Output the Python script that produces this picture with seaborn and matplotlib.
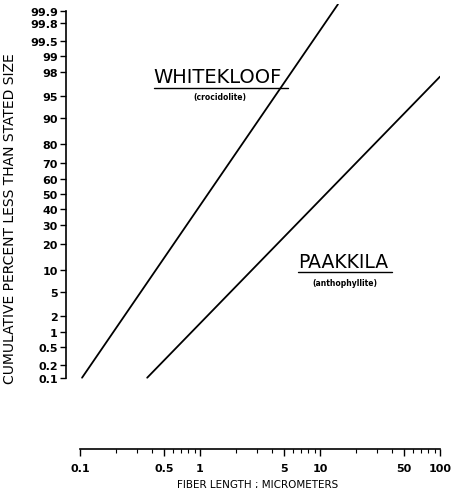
import numpy as np
import pandas as pd
import matplotlib
matplotlib.use("Agg")
import matplotlib.pyplot as plt
import seaborn as sns
from matplotlib.lines import Line2D
from matplotlib.ticker import FixedLocator, NullLocator, NullFormatter
from statistics import NormalDist

# ---- data ----
whitekloof_length = [0.104, 14.1]      # micrometers
whitekloof_pct = [0.1, 99.93]          # cumulative percent
paakkila_length = [0.363, 100.0]
paakkila_pct = [0.1, 97.6]

y_ticks = [0.1, 0.2, 0.5, 1, 2, 5, 10, 20, 30, 40, 50, 60, 70, 80, 90, 95, 98, 99, 99.5, 99.8, 99.9]
y_ticklabels = ["0.1", "0.2", "0.5", "1", "2", "5", "10", "20", "30", "40", "50",
                "60", "70", "80", "90", "95", "98", "99", "99.5", "99.8", "99.9"]
x_ticks = [0.1, 0.5, 1, 5, 10, 50, 100]
x_ticklabels = ["0.1", "0.5", "1", "5", "10", "50", "100"]

df = pd.DataFrame({
    "mineral": ["Whitekloof"] * len(whitekloof_length) + ["Paakkila"] * len(paakkila_length),
    "length": whitekloof_length + paakkila_length,
    "pct": whitekloof_pct + paakkila_pct,
})

nd = NormalDist()

def prob_fwd(p):
    p = np.asarray(p, dtype=float)
    flat = p.ravel()
    out = np.empty_like(flat)
    for i, v in enumerate(flat):
        if not np.isfinite(v):
            out[i] = np.nan
        else:
            q = min(max(v / 100.0, 1e-12), 1 - 1e-12)
            out[i] = nd.inv_cdf(q)
    return out.reshape(p.shape)

def prob_inv(z):
    z = np.asarray(z, dtype=float)
    flat = z.ravel()
    out = np.empty_like(flat)
    for i, v in enumerate(flat):
        out[i] = nd.cdf(v) * 100.0 if np.isfinite(v) else np.nan
    return out.reshape(z.shape)

sns.set_style("white")
plt.rcParams["font.family"] = ["DejaVu Sans"]
plt.rcParams["text.color"] = "black"
plt.rcParams["axes.labelcolor"] = "black"
plt.rcParams["xtick.color"] = "black"
plt.rcParams["ytick.color"] = "black"

fig = plt.figure(figsize=(4.54, 4.89), dpi=100)
ax = fig.add_axes([80 / 454, 1 - 450 / 489, 360 / 454, 445 / 489])

sns.lineplot(data=df, x="length", y="pct", hue="mineral", palette=["black", "black"],
             legend=False, sort=False, linewidth=1.3, ax=ax)

ax.set_xscale("log")
ax.set_yscale("function", functions=(prob_fwd, prob_inv))
ax.set_xlim(0.1, 100)
ax.set_ylim(float(prob_inv(-4.29)), float(prob_inv(3.2)))

ax.yaxis.set_major_locator(FixedLocator(y_ticks))
ax.set_yticklabels(y_ticklabels)
ax.yaxis.set_minor_locator(NullLocator())
ax.set_xticks(x_ticks)
ax.set_xticklabels(x_ticklabels)
minor = [m * 10.0 ** e for e in (-1, 0, 1) for m in range(2, 10)]
ax.xaxis.set_minor_locator(FixedLocator(minor))
ax.xaxis.set_minor_formatter(NullFormatter())

for s in ("top", "right"):
    ax.spines[s].set_visible(False)
ax.spines["left"].set_position(("outward", 10))
ax.spines["left"].set_bounds(0.1, 99.9)
ax.spines["left"].set_color("black")
ax.spines["bottom"].set_color("black")
ax.spines["left"].set_linewidth(1.2)
ax.spines["bottom"].set_linewidth(1.2)

ax.tick_params(axis="y", direction="out", length=4, width=1.0, color="black",
               labelcolor="black", labelsize=8, pad=2, left=True)
ax.tick_params(axis="x", which="major", direction="out", length=5, width=1.0,
               color="black", labelcolor="black", labelsize=8, pad=5, bottom=True)
ax.tick_params(axis="x", which="minor", direction="out", length=3, width=0.8,
               color="black", bottom=True)
for lab in ax.get_yticklabels() + ax.get_xticklabels():
    lab.set_fontweight("bold")

ax.set_xlabel("FIBER LENGTH ; MICROMETERS", fontsize=7.5, color="black")
ax.set_ylabel("CUMULATIVE PERCENT LESS THAN STATED SIZE", fontsize=10,
              color="black")
ax.yaxis.set_label_coords(-0.175, 0.52)
ax.xaxis.set_label_coords(0.494, -0.068)

# annotations
ax.text(0.203, 0.825, "WHITEKLOOF", transform=ax.transAxes, fontsize=14,
        ha="left", va="baseline", color="black")
ax.add_line(Line2D([0.206, 0.578], [0.812, 0.812], transform=ax.transAxes,
                   color="black", linewidth=1.0))
ax.text(0.389, 0.792, "(crocidolite)", transform=ax.transAxes, fontsize=5.5,
        ha="center", va="center", color="black", fontweight="bold")

ax.text(0.606, 0.409, "PAAKKILA", transform=ax.transAxes, fontsize=13.5,
        ha="left", va="baseline", color="black")
ax.add_line(Line2D([0.606, 0.867], [0.398, 0.398], transform=ax.transAxes,
                   color="black", linewidth=1.0))
ax.text(0.736, 0.375, "(anthophyllite)", transform=ax.transAxes, fontsize=5.5,
        ha="center", va="center", color="black", fontweight="bold")

fig.savefig("out.png", dpi=100)
